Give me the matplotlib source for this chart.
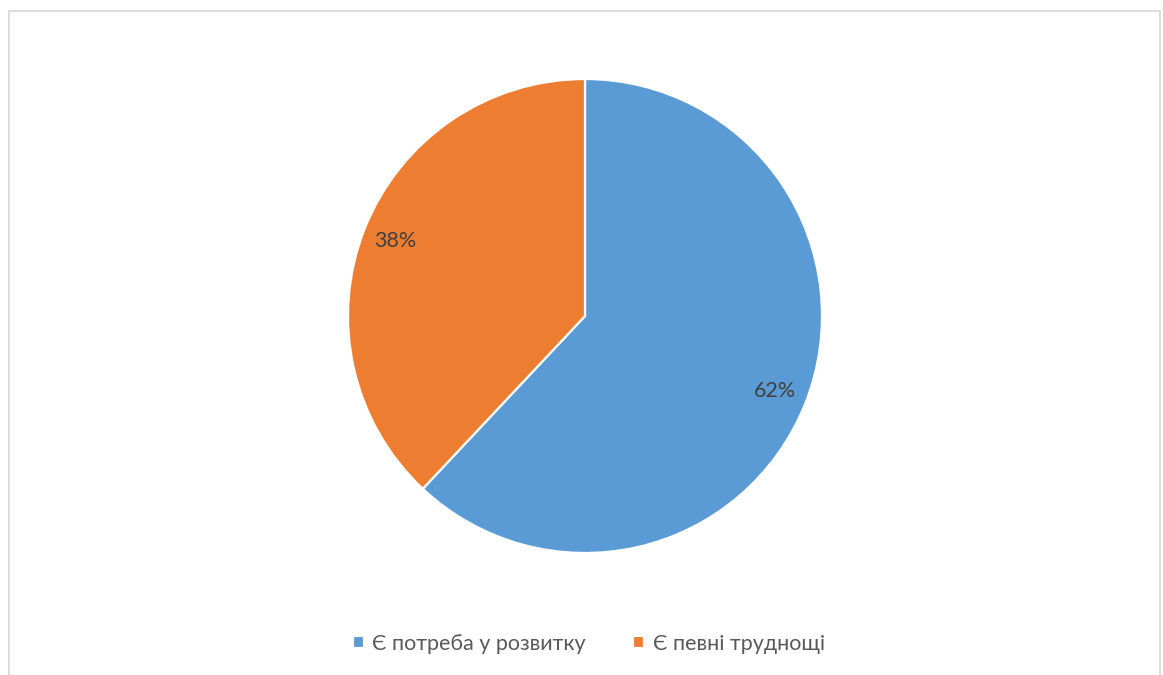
import matplotlib.pyplot as plt
from matplotlib.patches import Rectangle

# data
labels = ['Є потреба у розвитку', 'Є певні труднощі']
values = [62, 38]
colors = ['#5B9BD5', '#ED7D31']

plt.rcParams['font.family'] = ['Lato', 'DejaVu Sans']

W, H = 1163, 675
fig = plt.figure(figsize=(W / 100, H / 100), dpi=100)

# chart border (no bottom edge visible)
fig.patches.append(Rectangle((9 / W, -0.05), 1151 / W, 1 - 11 / H + 0.05,
                             transform=fig.transFigure, fill=False,
                             edgecolor='#D9D9D9', linewidth=1.3))

cx, cy, r = 585, 316, 237
ax = fig.add_axes([(cx - r) / W, (H - cy - r) / H, 2 * r / W, 2 * r / H])
wedges, texts, autotexts = ax.pie(values, colors=colors, startangle=90, counterclock=False,
                                  autopct='%1.0f%%', pctdistance=0.86,
                                  wedgeprops=dict(edgecolor='white', linewidth=1.6),
                                  textprops=dict(color='#404040', fontsize=15.5))
ax.set_xlim(-1, 1)
ax.set_ylim(-1, 1)
ax.set_aspect('equal')

fig.legend(wedges, labels, loc='center', bbox_to_anchor=(589 / W, 1 - 644 / H),
           ncol=2, frameon=False, handlelength=0.5, handleheight=0.5,
           handletextpad=0.4, columnspacing=2.2,
           prop=dict(size=15.5), labelcolor='#595959')

fig.savefig('out.png', dpi=100)
